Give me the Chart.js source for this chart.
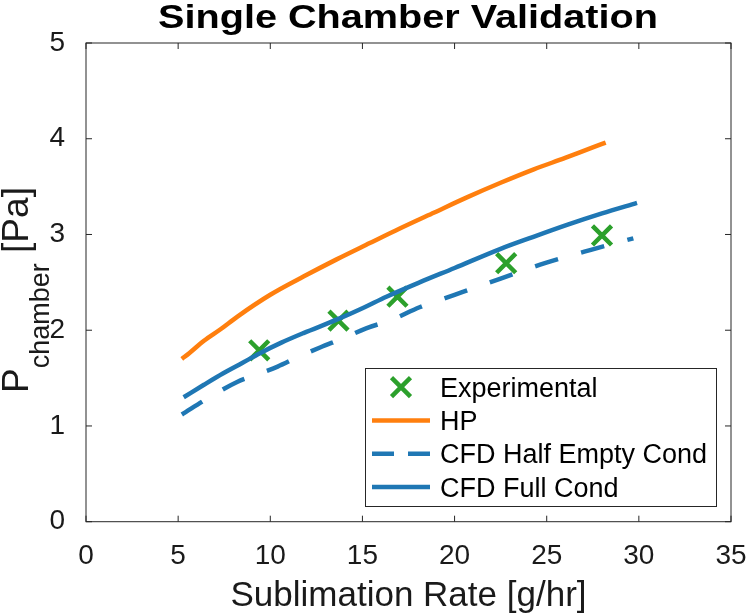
<!DOCTYPE html>
<html><head><meta charset="utf-8">
<script src="https://cdn.jsdelivr.net/npm/chart.js@4/dist/chart.umd.min.js"></script>
<style>html,body{margin:0;padding:0;background:#fff}</style>
</head><body>
<canvas id="c" width="750" height="615"></canvas>
<script>
const chartTitle = 'Single Chamber Validation';
const xTitle = 'Sublimation Rate [g/hr]';
const yTitleMain = 'P';
const yTitleSub = 'chamber';
const yTitleUnit = '[Pa]';
const xTicks = [0, 5, 10, 15, 20, 25, 30, 35];
const yTicks = [0, 1, 2, 3, 4, 5];

const seriesNames = ['Experimental', 'HP', 'CFD Half Empty Cond', 'CFD Full Cond'];

const expX = [9.4, 13.7, 16.9, 22.8, 28.0];
const expY = [1.79, 2.10, 2.35, 2.70, 2.99];

const hpX = [5.2, 5.6, 6.4, 7.3, 8.2, 10.0, 11.8, 13.6, 15.4, 17.0, 18.9, 20.7, 22.5, 24.3, 26.0, 27.5, 28.2];
const hpY = [1.70, 1.76, 1.89, 2.01, 2.14, 2.37, 2.56, 2.74, 2.91, 3.06, 3.23, 3.39, 3.54, 3.68, 3.80, 3.91, 3.96];

const halfX = [5.2, 6.7, 8.2, 9.3, 10.4, 11.5, 12.7, 14.0, 15.2, 16.6, 18.1, 20.0, 22.5, 24.9, 27.4, 29.7];
const halfY = [1.12, 1.30, 1.46, 1.54, 1.62, 1.72, 1.82, 1.92, 2.02, 2.11, 2.24, 2.37, 2.54, 2.70, 2.84, 2.96];

const fullX = [5.3, 6.4, 7.45, 8.5, 9.44, 10.6, 11.8, 13.6, 15.0, 16.3, 18.1, 20.0, 22.5, 24.2, 26.1, 28.0, 29.9];
const fullY = [1.30, 1.43, 1.55, 1.66, 1.76, 1.87, 1.97, 2.11, 2.23, 2.35, 2.50, 2.65, 2.85, 2.97, 3.10, 3.22, 3.33];

const pts = (xs, ys) => xs.map((x, i) => ({x, y: ys[i]}));

const FONT = '"Liberation Sans", Arial, Helvetica, sans-serif';
const GREEN = '#2ca02c', ORANGE = '#ff7f0e', BLUE = '#1f77b4';
const AX = '#262626';

const framePlugin = {
  id: 'frame',
  afterDatasetsDraw(chart) {
    const {ctx, scales: {x, y}} = chart;
    const L0 = x.getPixelForValue(xTicks[0]), R0 = x.getPixelForValue(xTicks[xTicks.length - 1]);
    const B0 = y.getPixelForValue(yTicks[0]), T0 = y.getPixelForValue(yTicks[yTicks.length - 1]);
    ctx.save();
    ctx.strokeStyle = AX; ctx.lineWidth = 1;
    ctx.strokeRect(L0, T0, R0 - L0, B0 - T0);
    const L = 6;
    ctx.beginPath();
    xTicks.forEach(v => {
      const p = x.getPixelForValue(v);
      ctx.moveTo(p, B0); ctx.lineTo(p, B0 - L);
      ctx.moveTo(p, T0); ctx.lineTo(p, T0 + L);
    });
    yTicks.forEach(v => {
      const p = y.getPixelForValue(v);
      ctx.moveTo(L0, p); ctx.lineTo(L0 + L, p);
      ctx.moveTo(R0, p); ctx.lineTo(R0 - L, p);
    });
    ctx.stroke();

    // title
    ctx.fillStyle = '#000';
    ctx.font = 'bold 34px ' + FONT;
    ctx.textAlign = 'center'; ctx.textBaseline = 'alphabetic';
    const tw = ctx.measureText(chartTitle).width;
    const sx = 500 / tw;
    ctx.save();
    ctx.translate(408, 28);
    ctx.scale(sx, 1);
    ctx.fillText(chartTitle, 0, 0);
    ctx.restore();

    // x title
    ctx.fillStyle = '#1a1a1a';
    ctx.font = '35px ' + FONT;
    ctx.fillText(xTitle, (L0 + R0) / 2, 606);

    // y title with subscript
    const mainF = '37px ' + FONT, subF = '27px ' + FONT;
    ctx.font = mainF; const wP = ctx.measureText(yTitleMain).width;
    const wU = ctx.measureText(' ' + yTitleUnit).width;
    ctx.font = subF; const wS = ctx.measureText(yTitleSub).width;
    const total = wP + wS + wU;
    ctx.save();
    ctx.translate(28, 290);
    ctx.rotate(-Math.PI / 2);
    ctx.textAlign = 'left';
    let u = -total / 2;
    ctx.font = mainF; ctx.fillText(yTitleMain, u, 0); u += wP;
    ctx.font = subF; ctx.fillText(yTitleSub, u, 21); u += wS;
    ctx.font = mainF; ctx.fillText(' ' + yTitleUnit, u, 0);
    ctx.restore();
    ctx.restore();
  },
  afterDraw(chart) {
    const {ctx} = chart;
    ctx.save();
    const bx = 365, by = 368, bw = 351, bh = 138;
    ctx.fillStyle = '#fff';
    ctx.fillRect(bx, by, bw, bh);
    ctx.strokeStyle = AX; ctx.lineWidth = 1;
    ctx.strokeRect(bx + 0.5, by + 0.5, bw, bh);
    const base = [396.7, 430, 463.3, 496.7];
    const ds = chart.data.datasets;
    ctx.font = '27px ' + FONT;
    ctx.fillStyle = '#000';
    ctx.textAlign = 'left'; ctx.textBaseline = 'alphabetic';
    ds.forEach((d, i) => {
      const cy = base[i] - 9.6;
      if (i === 0) {
        const r = 9.5, cx = 401;
        ctx.strokeStyle = d.borderColor; ctx.lineWidth = 4.5; ctx.setLineDash([]);
        ctx.beginPath();
        ctx.moveTo(cx - r, cy - r); ctx.lineTo(cx + r, cy + r);
        ctx.moveTo(cx - r, cy + r); ctx.lineTo(cx + r, cy - r);
        ctx.stroke();
      } else {
        ctx.strokeStyle = d.borderColor; ctx.lineWidth = d.borderWidth;
        ctx.setLineDash(d.borderDash && d.borderDash.length ? [22, 14] : []);
        ctx.beginPath(); ctx.moveTo(372, cy); ctx.lineTo(430, cy); ctx.stroke();
      }
      ctx.setLineDash([]);
      ctx.fillText(d.label, 440, base[i]);
    });
    ctx.restore();
  }
};

new Chart(document.getElementById('c'), {
  type: 'line',
  data: {
    datasets: [
      {label: seriesNames[0], data: pts(expX, expY), showLine: false, borderColor: GREEN, backgroundColor: GREEN,
       pointStyle: 'crossRot', pointRadius: 13.5, pointBorderWidth: 4.5, pointHoverRadius: 13.5, order: 4},
      {label: seriesNames[1], data: pts(hpX, hpY), borderColor: ORANGE, borderWidth: 4.5, pointRadius: 0,
       cubicInterpolationMode: 'monotone', fill: false, order: 3},
      {label: seriesNames[2], data: pts(halfX, halfY), borderColor: BLUE, borderWidth: 4.5, pointRadius: 0,
       borderDash: [24, 24], borderCapStyle: 'butt', cubicInterpolationMode: 'monotone', fill: false, order: 2},
      {label: seriesNames[3], data: pts(fullX, fullY), borderColor: BLUE, borderWidth: 4.5, pointRadius: 0,
       cubicInterpolationMode: 'monotone', fill: false, order: 1}
    ]
  },
  options: {
    responsive: false,
    animation: false,
    devicePixelRatio: 1,
    layout: {padding: {top: 43, right: 19, left: 0, bottom: 0}},
    plugins: {legend: {display: false}, title: {display: false}, tooltip: {enabled: false}},
    scales: {
      x: {
        type: 'linear', min: 0, max: 35,
        grid: {display: false}, border: {display: false},
        afterBuildTicks: s => { s.ticks = xTicks.map(v => ({value: v})); },
        afterFit: s => { s.height = 93.3; s.paddingLeft = 0; s.paddingRight = 0; },
        ticks: {font: {size: 28, family: FONT}, color: '#1a1a1a', padding: 10, maxRotation: 0}
      },
      y: {
        type: 'linear', min: 0, max: 5,
        grid: {display: false}, border: {display: false},
        afterBuildTicks: s => { s.ticks = yTicks.map(v => ({value: v})); },
        afterFit: s => { s.width = 86; s.paddingTop = 0; s.paddingBottom = 0; },
        ticks: {font: {size: 28, family: FONT}, color: '#1a1a1a', padding: 13}
      }
    }
  },
  plugins: [framePlugin]
});
</script>
</body></html>
